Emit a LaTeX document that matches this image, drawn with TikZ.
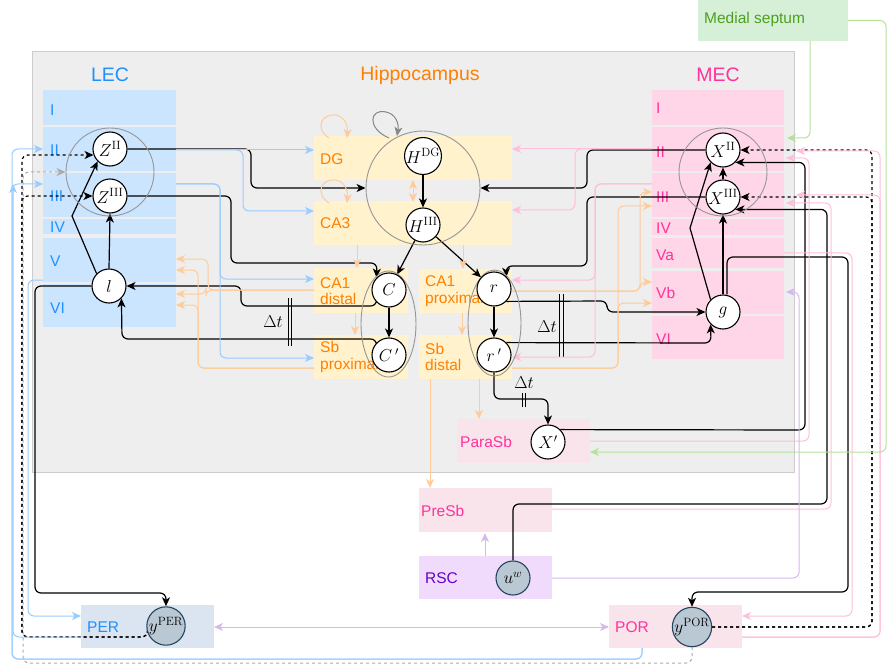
\documentclass[tikz,border=0pt]{standalone}
\usepackage[no-math]{fontspec}
\setmainfont{Liberation Sans}
\usetikzlibrary{arrows.meta,shapes.geometric}
\pgfdeclarelayer{bgl}
\pgfdeclarelayer{midl}
\pgfsetlayers{bgl,midl,main}
\definecolor{bgG}{RGB}{238,238,238}
\definecolor{bgD}{RGB}{204,204,204}
\definecolor{lecF}{RGB}{204,229,255}
\definecolor{lecT}{RGB}{30,144,255}
\definecolor{mecF}{RGB}{255,214,232}
\definecolor{mecT}{RGB}{255,51,153}
\definecolor{hipF}{RGB}{255,242,204}
\definecolor{hipT}{RGB}{255,128,0}
\definecolor{parF}{RGB}{249,228,236}
\definecolor{rscF}{RGB}{241,219,252}
\definecolor{rscT}{RGB}{102,0,204}
\definecolor{perF}{RGB}{218,229,241}
\definecolor{msF}{RGB}{213,240,215}
\definecolor{msT}{RGB}{77,160,30}
\definecolor{blueL}{RGB}{153,204,255}
\definecolor{oraL}{RGB}{255,204,153}
\definecolor{pinkL}{RGB}{255,190,220}
\definecolor{lavL}{RGB}{212,185,235}
\definecolor{greenL}{RGB}{182,225,155}
\definecolor{grayL}{RGB}{150,150,150}
\definecolor{obsF}{RGB}{186,200,211}
\definecolor{obsD}{RGB}{35,68,93}
\begin{document}
\begin{tikzpicture}[x=1pt,y=-1pt,
  >={Stealth[length=9pt,width=8pt,inset=2.5pt]},
  rect/.style={anchor=north west,inner sep=0pt,outer sep=0pt,draw=none},
  circ/.style={circle,draw=black,fill=white,line width=1.1pt,minimum size=34pt,inner sep=0pt,font=\fontsize{17.5}{18}\selectfont},
  obs/.style={circ,fill=obsF,draw=obsD},
  bigc/.style={circle,draw=grayL,line width=0.9pt,inner sep=0pt},
  ell/.style={ellipse,draw=grayL,line width=0.9pt,inner sep=0pt},
  lab/.style={anchor=west,inner sep=0pt,align=left,font=\fontsize{15.5}{16.5}\selectfont},
  ttl/.style={inner sep=0pt,font=\fontsize{19.5}{20}\selectfont},
  con/.style={line width=1pt,rounded corners=6pt,->},
  blk/.style={con,draw=black,line width=1.2pt},
  blkd/.style={con,draw=black,dashed,line width=1.2pt},
  bl/.style={con,draw=blueL},
  ora/.style={con,draw=oraL},
  pk/.style={con,draw=pinkL},
  lav/.style={con,draw=lavL},
  grn/.style={con,draw=greenL},
  dtl/.style={inner sep=0pt,font=\fontsize{17}{17}\selectfont}
]
\useasboundingbox (0,0) rectangle (888,668);

% ---------- background boxes ----------
\begin{pgfonlayer}{bgl}
\node[rect,fill=bgG,draw=bgD,line width=1pt,minimum width=762pt,minimum height=420pt] (hbox) at (32,52) {};
\node[rect,fill=msF,minimum width=150pt,minimum height=41pt] (MS) at (698,0) {};
% LEC layers
\node[rect,fill=lecF,minimum width=133pt,minimum height=35pt] (lecI) at (43,90) {};
\node[rect,fill=lecF,minimum width=133pt,minimum height=44pt] (lecII) at (43,127) {};
\node[rect,fill=lecF,minimum width=133pt,minimum height=44pt] (lecIII) at (43,173) {};
\node[rect,fill=lecF,minimum width=133pt,minimum height=15pt] (lecIV) at (43,219) {};
\node[rect,fill=lecF,minimum width=133pt,minimum height=44pt] (lecV) at (43,238) {};
\node[rect,fill=lecF,minimum width=133pt,minimum height=43pt] (lecVI) at (43,284) {};
% MEC layers
\node[rect,fill=mecF,minimum width=132pt,minimum height=35pt] (mecI) at (652,90) {};
\node[rect,fill=mecF,minimum width=132pt,minimum height=44pt] (mecII) at (652,127) {};
\node[rect,fill=mecF,minimum width=132pt,minimum height=44pt] (mecIII) at (652,173) {};
\node[rect,fill=mecF,minimum width=132pt,minimum height=16pt] (mecIV) at (652,219) {};
\node[rect,fill=mecF,minimum width=132pt,minimum height=30pt] (mecVa) at (652,238) {};
\node[rect,fill=mecF,minimum width=132pt,minimum height=43pt] (mecVb) at (652,271) {};
\node[rect,fill=mecF,minimum width=132pt,minimum height=43pt] (mecVI) at (652,316) {};
% hippocampus
\node[rect,fill=hipF,minimum width=198pt,minimum height=44pt] (DG) at (314,136) {};
\node[rect,fill=hipF,minimum width=198pt,minimum height=44pt] (CA3) at (314,201) {};
\node[rect,fill=hipF,minimum width=94pt,minimum height=45pt] (CAd) at (314,268) {};
\node[rect,fill=hipF,minimum width=93pt,minimum height=44pt] (CAp) at (419,269) {};
\node[rect,fill=hipF,minimum width=94pt,minimum height=44pt] (Sbp) at (314,335) {};
\node[rect,fill=hipF,minimum width=93pt,minimum height=44pt] (Sbd) at (419,335) {};
\node[rect,fill=parF,minimum width=133pt,minimum height=44pt] (PSb) at (457,419) {};
\node[rect,fill=parF,minimum width=133pt,minimum height=44pt] (PreSb) at (419,488) {};
\node[rect,fill=rscF,minimum width=133pt,minimum height=43pt] (RSC) at (419,556) {};
\node[rect,fill=parF,minimum width=133pt,minimum height=43pt] (POR) at (609,605) {};
\node[rect,fill=perF,minimum width=133pt,minimum height=43pt] (PER) at (81,605) {};
% labels
\node[lab,text=msT] at (704,19) {Medial septum};
\node[ttl,text=lecT] at (110,75) {LEC};
\node[ttl,text=hipT] at (420,75) {Hippocampus};
\node[ttl,text=mecT] at (718,75) {MEC};
\node[lab,text=lecT] at (50,110) {I};
\node[lab,text=lecT] at (50,150) {II};
\node[lab,text=lecT] at (50,196) {III};
\node[lab,text=lecT] at (50,227) {IV};
\node[lab,text=lecT] at (50,261) {V};
\node[lab,text=lecT] at (50,308) {VI};
\node[lab,text=mecT] at (656,108) {I};
\node[lab,text=mecT] at (656,152) {II};
\node[lab,text=mecT] at (656,197) {III};
\node[lab,text=mecT] at (656,228) {IV};
\node[lab,text=mecT] at (656,255) {Va};
\node[lab,text=mecT] at (656,293) {Vb};
\node[lab,text=mecT] at (656,339) {VI};
\node[lab,text=hipT] at (320,159) {DG};
\node[lab,text=hipT] at (320,223) {CA3};
\node[lab,text=hipT] at (320,291) {CA1\\distal};
\node[lab,text=hipT] at (425,291) {CA1\\proximal};
\node[lab,text=hipT] at (320,357) {Sb\\proximal};
\node[lab,text=hipT] at (425,357) {Sb\\distal};
\node[lab,text=mecT] at (460,442) {ParaSb};
\node[lab,text=mecT] at (421,511) {PreSb};
\node[lab,text=rscT] at (425,578) {RSC};
\node[lab,text=mecT] at (615,627) {POR};
\node[lab,text=lecT] at (87,627) {PER};
\end{pgfonlayer}

% ---------- nodes ----------
\node[bigc,minimum size=88pt] (lecC) at (110,172) {};
\node[bigc,minimum size=114pt] (hipC) at (423,188) {};
\node[bigc,minimum size=88pt] (mecC) at (723,172) {};
\node[ell,minimum width=55pt,minimum height=106pt] (ellC) at (388.5,324) {};
\node[ell,minimum width=53pt,minimum height=106pt] (ellR) at (494.5,323) {};

\node[circ] (Z2) at (110,149) {$Z^{\mathrm{II}}$};
\node[circ] (Z3) at (110,196) {$Z^{\mathrm{III}}$};
\node[circ] (L) at (109,286) {$l$};
\node[circ] (HDG) at (423,156) {$H^{\mathrm{DG}}$};
\node[circ] (H3) at (423,225) {$H^{\mathrm{III}}$};
\node[circ] (C) at (389,290) {$C$};
\node[circ] (Cp) at (389,355) {$C\,'$};
\node[circ] (R) at (494,289) {$r$};
\node[circ] (Rp) at (494,355) {$r\,'$};
\node[circ] (X2) at (723,150) {$X^{\mathrm{II}}$};
\node[circ] (X3) at (723,197) {$X^{\mathrm{III}}$};
\node[circ] (G) at (723,312) {$g$};
\node[circ] (Xp) at (548,442) {$X'$};
\node[obs] (UW) at (513,578) {$u^{w}$};
\node[obs] (YPOR) at (692,627) {$y^{\mathrm{POR}}$};
\node[obs] (YPER) at (166,626) {$y^{\mathrm{PER}}$};

\node[dtl] at (273,322) {$\Delta t$};
\node[dtl] at (547,327) {$\Delta t$};
\node[dtl] at (524,383) {$\Delta t$};

% ---------- connectors ----------
\begin{pgfonlayer}{midl}
% delay bars
\draw[line width=1pt] (288,298) -- (288,346) (291.5,298) -- (291.5,346);
\draw[line width=1pt] (559.5,294) -- (559.5,357) (563,294) -- (563,357);
\draw[line width=1pt] (522,393) -- (522,407) (525.5,393) -- (525.5,407);

% black
\draw[blk,rounded corners=0pt] (L.north west) -- (72,216) -- (Z2.south west);
\draw[blk] (L.north) -- (Z3.south);
\draw[blk] (Z2.east) -- (251,149) |- (hipC.west);
\draw[blk] (Z3.east) -- (231,196) |- (377,263) -- (C.north west);
\draw[blk] (HDG) -- (H3);
\draw[blk] (H3) -- (C);
\draw[blk] (H3) -- (R);
\draw[blk] (C) -- (Cp);
\draw[blk] (R) -- (Rp);
\draw[blk] (X2.west) -- (587,150) |- (hipC.east);
\draw[blk] (X3.west) -- (587,197) |- (506,266) -- (R.north east);
\draw[blk] (C.south west) |- (241,306) |- (L.east);
\draw[blk] (Cp.north west) |- (122,339) -- (L.south east);
\draw[blk] (R.south east) -- (607,301) |- (G.west);
\draw[blk] (Rp.north east) -- (711,343) -- (G.south west);
\draw[blk] (Rp.south) |- (548,399) -- (Xp.north);
\draw[blk] (Xp.north east) -- (805,430) |- (X2.south east);
\draw[blk] (UW.north) |- (827,504) |- (X3.south east);
\draw[blk] (G.north) -- (X3.south);
\draw[blk] ([xshift=4pt]G.north) |- (848,257) |- (692,592) -- (YPOR.north);
\draw[blk,rounded corners=0pt] (G.north west) -- (690,228) -- (X2.south west);
\draw[blk] (X3.north) -- (X2.south);
\draw[blk] (L.west) -| (35,593) -| (YPER.north);

% dashed black
\draw[blkd] (YPOR.east) -| (872,150) -- (X2.east);
\draw[blkd] (YPOR.east) -| (872,197) -- (X3.east);
\draw[blkd] (YPER.200) |- (22,637) |- (Z2.200);
\draw[blkd] (YPER.200) |- (22,637) |- (Z3.west);
\draw[con,draw=grayL!80,dashed] (YPOR.south) |- (23,663) |- (lecC.west);

% gray loop on hippocampal circle
\draw[con,draw=grayL!90!black,rounded corners=0pt] (389,138) .. controls (366,128) and (370,108) .. (386,112) .. controls (396,114) and (399,124) .. (397,136);

% blue
\draw[bl] (176,150) -- (314,150);
\draw[bl] (176,150) -| (243,211) -- (314,211);
\draw[bl] (176,184) -| (220,279) -- (314,279);
\draw[bl] (176,184) -| (220,358) -- (314,358);
\draw[bl] (POR.south -| 642,0) |- (12,659) |- (43,149);
\draw[bl] (POR.south -| 642,0) |- (12,659) |- (43,184);
\draw[bl] (81,637) -| (13,184);
\draw[bl] (43,280) -| (28,616) -- (PER.west |- 0,616);

% orange
\draw[ora] (314,290) -| (208,259) -- (176,259);
\draw[ora] (314,290) -| (206,294) -- (176,294);
\draw[ora] (314,368) -| (198,270) -- (176,270);
\draw[ora] (314,368) -| (198,305) -- (176,305);
\draw[ora] (512,291) -| (640,192) -- (652,192);
\draw[ora] (512,291) -| (640,282) -- (652,282);
\draw[ora] (512,368) -| (618,206) -- (652,206);
\draw[ora] (512,368) -| (618,303) -- (652,303);
\draw[ora] (357,245) -- (357,268);
\draw[ora] (463,245) -- (463,269);
\draw[ora] (355,313) -- (355,335);
\draw[ora] (462,313) -- (462,335);
\draw[ora] (430,379) -- (PreSb.north -| 430,0);
\draw[ora] (479,379) -- (PSb.north -| 479,0);
\draw[ora,<->] (413,180) -- (413,202);
\draw[ora,rounded corners=0pt] (329,138) .. controls (314,128) and (322,113) .. (336,115) .. controls (345,117) and (348,126) .. (347,138);
\draw[ora,rounded corners=0pt] (329,203) .. controls (314,193) and (322,178) .. (336,180) .. controls (345,182) and (348,191) .. (347,203);

% pink
\draw[pk] (652,149) -- (512,149);
\draw[pk] (652,149) -| (575,210) -- (512,210);
\draw[pk] (652,184) -| (595,280) -- (512,280);
\draw[pk] (652,184) -| (595,357) -- (512,357);
\draw[pk] (784,253) -| (852,616) -- (POR.east |- 0,616);
\draw[pk] (POR.east |- 0,637) -| (880,151) -- (796,151);
\draw[pk] (POR.east |- 0,637) -| (880,195) -- (796,195);
\draw[pk] (PSb.east |- 0,441) -| (809,158) -- (786,158);
\draw[pk] (PreSb.east |- 0,509) -| (831,203) -- (786,203);

% lavender
\draw[lav] (485,556) -- (485,533);
\draw[lav] (RSC.east |- 0,578) -| (799,292) -- (786,292);
\draw[lav,<->] (PER.east |- 0,627) -- (POR.west |- 0,627);

% green
\draw[grn] (810,41) |- (787,138);
\draw[grn] (MS.east) -| (886,452) -- (PSb.east |- 0,452);
\end{pgfonlayer}
\end{tikzpicture}
\end{document}
